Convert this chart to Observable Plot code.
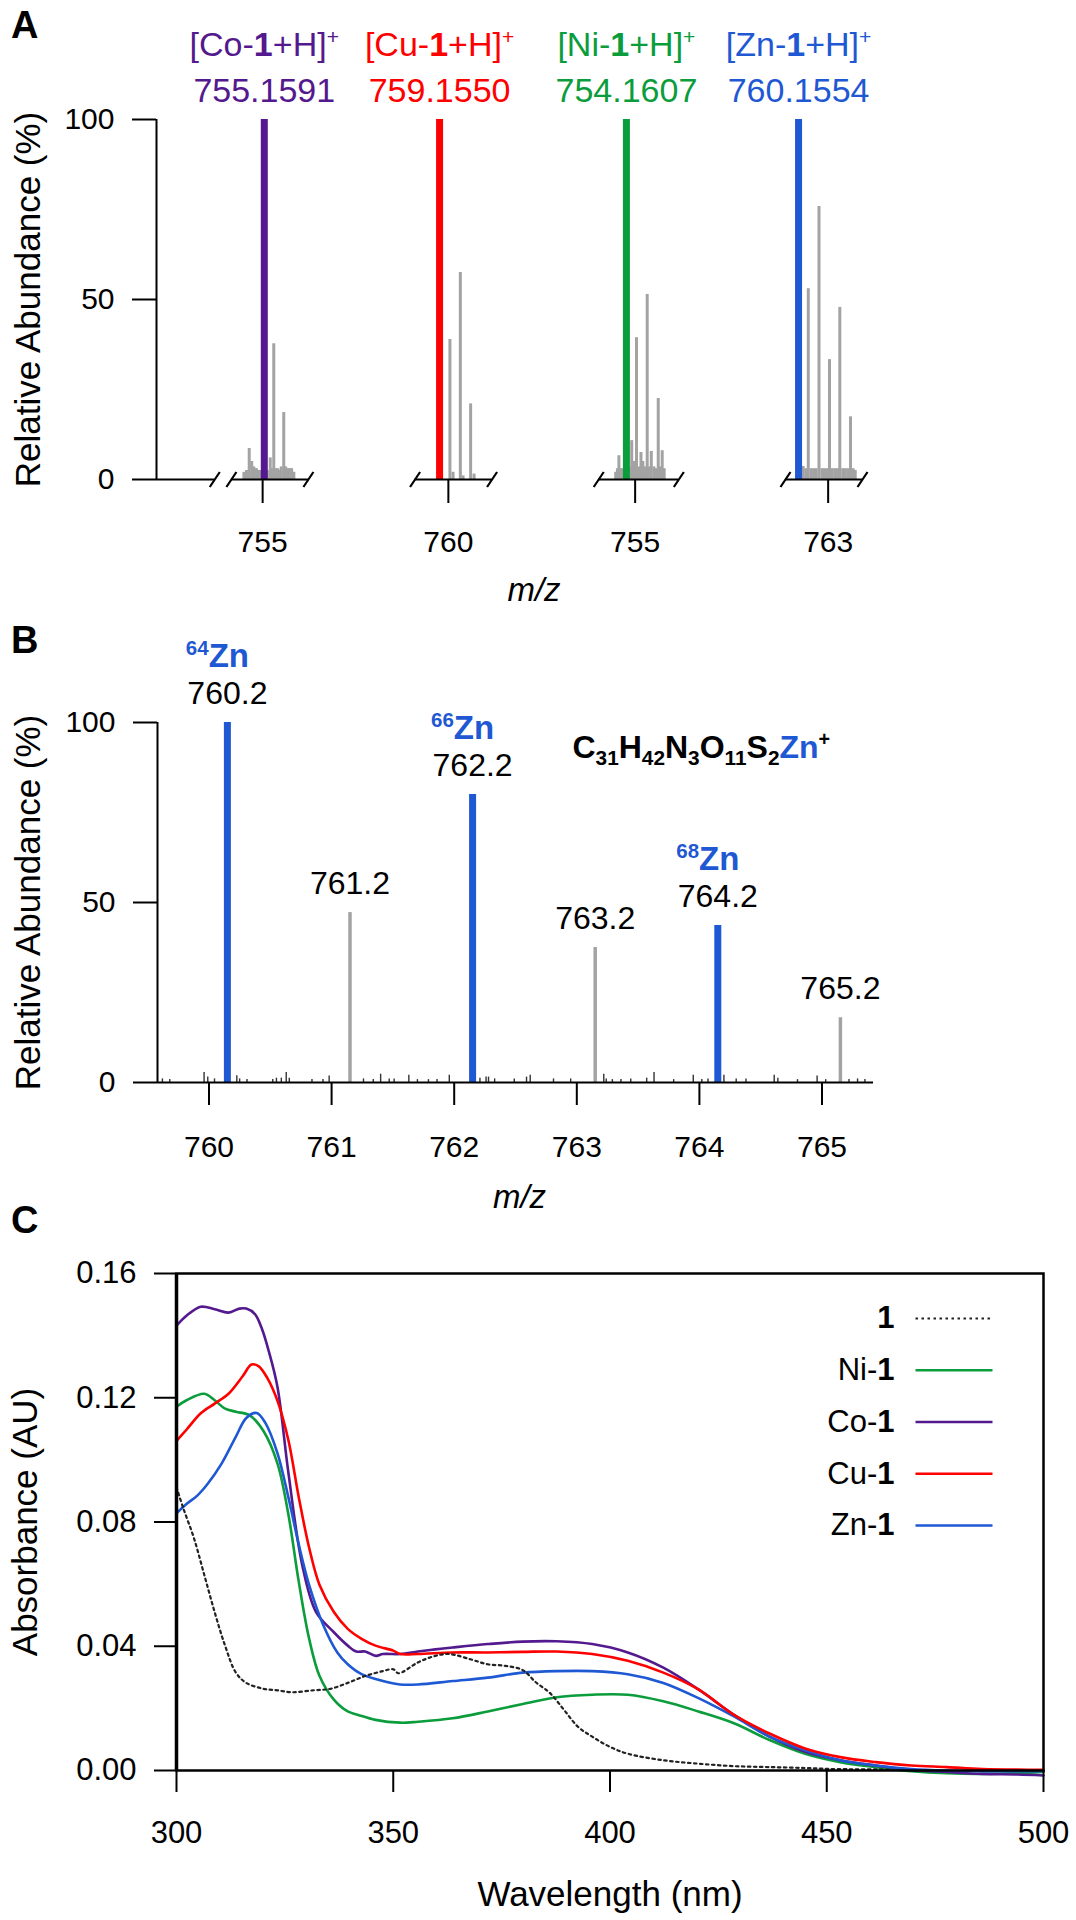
<!DOCTYPE html>
<html>
<head>
<meta charset="utf-8">
<script src="https://cdn.jsdelivr.net/npm/d3@7"></script>
<script src="https://cdn.jsdelivr.net/npm/@observablehq/plot@0.6"></script>
<style>
  html, body { margin: 0; padding: 0; background: #fff; overflow: hidden; }
  #fig { position: relative; width: 1076px; height: 1920px; font-family: "Liberation Sans", Arial, Helvetica, sans-serif; color: #000; }
  .panel { position: absolute; left: 0; }
  .letter { position: absolute; left: 11px; font-weight: bold; font-size: 38px; line-height: 1; }
</style>
</head>
<body>
<div id="fig">
  <div class="letter" style="top:6px">A</div>
  <div class="letter" style="top:621px">B</div>
  <div class="letter" style="top:1201px">C</div>
</div>
<script>
const FONT = '"Liberation Sans", Arial, Helvetica, sans-serif';
const PURPLE = "#54198e", RED = "#ff0000", GREEN = "#0b9c3c", BLUE = "#1f58d3", GREY = "#a3a3a3";

// ---------------- Panel A data ----------------
const metalsA = ["Co", "Cu", "Ni", "Zn"];
const ionLabelsA = ["[Co-<b>1</b>+H]<sup>+</sup>", "[Cu-<b>1</b>+H]<sup>+</sup>", "[Ni-<b>1</b>+H]<sup>+</sup>", "[Zn-<b>1</b>+H]<sup>+</sup>"];
const ionMzA = [755.1591, 759.1550, 754.1607, 760.1554];
const ionColorsA = [PURPLE, RED, GREEN, BLUE];
const axisTickA = [755, 760, 755, 763];
const windowLoA = [752.0, 756.8, 751.5, 758.9];
const windowHiA = [759.4, 764.2, 759.2, 766.3];
const greyCo = [[753.2,2],[753.45,2.5],[753.71,8.6],[753.95,5],[754.15,3.5],[754.41,3],[754.65,2.5],[754.85,2.5],
  [755.45,2.5],[755.73,6],[755.9,3],[756.07,37.7],[756.27,3],[756.46,3],[756.62,2.5],[756.79,3.5],[757.03,18.6],
  [757.22,3.5],[757.45,3],[757.62,3],[757.79,3],[758.0,2]];
const greyCu = [[760.15,38.9],[760.45,2],[761.15,57.5],[761.41,1],[762.14,21],[762.47,1.5]];
const greyNi = [[753.13,2],[753.3,3],[753.44,6.6],[753.6,3],[753.8,3],[754.45,3.5],[754.67,10.8],[754.86,5],[755.0,3],
  [755.13,39.4],[755.35,3.5],[755.56,7.5],[755.74,5],[755.95,3.5],[756.16,51.4],[756.35,3.5],[756.55,7.8],[756.8,3.5],
  [757.0,3],[757.22,22.5],[757.4,3.5],[757.6,8],[757.79,3]];
const greyZn = [[760.4,3.6],[760.6,3.6],[760.85,3],[761.09,53],[761.35,3],[761.6,3],[761.85,3],[762.12,75.8],[762.4,3],
  [762.65,3],[762.9,3],[763.13,33.3],[763.4,3],[763.65,3],[763.9,3],[764.12,47.8],[764.4,3],[764.65,3],[764.9,3],
  [765.15,17.4],[765.4,3],[765.6,2.5]];
const greyByMetalA = {Co: greyCo, Cu: greyCu, Ni: greyNi, Zn: greyZn};

// ---------------- Panel B data ----------------
const peakMzB = [760.15, 761.15, 762.15, 763.15, 764.15, 765.15];
const peakAbB = [100, 47.2, 80, 37.5, 43.6, 18];
const peakLabelB = ["760.2", "761.2", "762.2", "763.2", "764.2", "765.2"];
const isotopeB = ["64", "", "66", "", "68", ""];
const noiseMzB = [759.62,759.68,759.96,759.99,760.045,760.227,760.25,760.31,760.52,760.55,760.59,760.63,760.655,760.84,
  760.93,760.98,761.26,761.34,761.40,761.47,761.51,761.63,761.70,761.79,761.86,761.96,762.21,762.26,762.28,762.33,762.49,
  762.59,762.62,762.81,762.95,763.22,763.24,763.29,763.36,763.44,763.57,763.63,763.79,763.95,764.02,764.07,764.20,764.30,
  764.38,764.61,764.64,764.80,764.96,765.03,765.22,765.29,765.35];
const noiseAbB = [1,0.8,2.8,1.5,1,1.9,1,0.8,0.8,1.2,1.2,2.8,1.2,0.8,0.8,1.8,1,0.8,2.3,1,1,2,0.8,0.8,0.8,2,1.2,1.5,1.5,1,1,
  1.5,2,1,1,2.3,1,0.8,0.8,1,1.2,2.8,0.8,2,0.8,1,2,1,1,2,1.2,0.8,1.8,0.8,0.8,1,0.8];
const formulaB = "C<sub>31</sub>H<sub>42</sub>N<sub>3</sub>O<sub>11</sub>S<sub>2</sub><blue>Zn</blue><sup>+</sup>";
const xTicksB = [760, 761, 762, 763, 764, 765];

// ---------------- Panel C data (wavelength nm, absorbance AU) ----------------
const seriesNamesC = ["<b>1</b>", "Ni-<b>1</b>", "Co-<b>1</b>", "Cu-<b>1</b>", "Zn-<b>1</b>"];
const seriesColorsC = ["#222", GREEN, PURPLE, RED, BLUE];
const free1 = [[300,0.0912],[301.5,0.0847],[304,0.0749],[306.4,0.063],[308.8,0.051],[311.2,0.0402],[313.7,0.0315],
  [316.1,0.0282],[320.1,0.0263],[323.3,0.0258],[326.6,0.0252],[331.4,0.0258],[335.5,0.0263],[339.5,0.0282],[343.5,0.0304],
  [347.6,0.032],[350,0.0326],[351.2,0.0313],[355.7,0.0348],[359.7,0.0369],[362.9,0.0375],[367.8,0.0358],[371.8,0.0342],
  [375.8,0.0337],[379.9,0.0323],[382.8,0.0285],[386.1,0.025],[389.4,0.0195],[392.6,0.0141],[395.9,0.0109],[400,0.0076],
  [404.1,0.0054],[412.3,0.0033],[420.4,0.0022],[428.6,0.0014],[436.8,0.0011],[445,0.0008],[450.7,0.0005],[465,0.0003]];
const ni1 = [[300,0.1171],[302.3,0.1192],[306.4,0.1213],[308.8,0.1192],[311.2,0.1165],[313.7,0.1155],[316.9,0.1143],
  [320.1,0.1092],[323.3,0.0988],[325.8,0.0825],[328.2,0.0608],[330.6,0.0424],[333,0.0304],[336.3,0.0228],[339.5,0.019],
  [341.9,0.0179],[345.9,0.0163],[351.6,0.0154],[355.7,0.0157],[363.7,0.0168],[371.8,0.019],[379.9,0.0214],[387.7,0.0236],
  [395.9,0.0244],[404.1,0.0244],[412.3,0.0223],[420.4,0.019],[428.6,0.0152],[436.8,0.0098],[445,0.0054],[453.1,0.0027],
  [461.3,0.0011],[469.5,-0.0002],[477.7,-0.0009],[485.9,-0.0011],[500,-0.0005]];
const co1 = [[300,0.1432],[302.3,0.1464],[305.6,0.1493],[308.8,0.1485],[312,0.1474],[314.5,0.1487],[316.1,0.1487],
  [318.1,0.1469],[319.7,0.1422],[321.3,0.1349],[323.3,0.1234],[325.8,0.096],[329,0.0662],[332.2,0.051],[336.3,0.0445],
  [339.5,0.0402],[341.5,0.0383],[343.5,0.0383],[346,0.0369],[347.6,0.0375],[351.6,0.0375],[355.7,0.0383],[359.7,0.039],
  [363.7,0.0396],[371.8,0.0407],[379.9,0.0415],[387.7,0.0416],[395.9,0.0407],[404.1,0.038],[412.3,0.0331],[420.4,0.0261],
  [428.6,0.0179],[436.8,0.0109],[445,0.006],[453.1,0.0033],[461.3,0.0016],[469.5,0.0002],[477.7,-0.0005],[485.9,-0.0011],
  [494,-0.0013],[500,-0.0016]];
const cu1 = [[300,0.1061],[302.3,0.1097],[305.6,0.115],[308.8,0.1181],[312,0.1213],[315.3,0.127],[317.3,0.1307],
  [318.9,0.1302],[320.9,0.1265],[323.3,0.119],[325.8,0.1064],[328.2,0.088],[330.6,0.0717],[333,0.0597],[336.3,0.051],
  [339.5,0.0456],[342.7,0.0424],[345.9,0.0402],[350,0.0386],[351.6,0.0375],[355.7,0.0375],[363.7,0.038],[371.8,0.038],
  [379.9,0.0382],[387.7,0.0383],[395.9,0.0375],[404.1,0.0353],[412.3,0.0315],[420.4,0.0261],[428.6,0.0179],[436.8,0.0119],
  [445,0.0071],[453.1,0.0043],[461.3,0.0027],[469.5,0.0016],[477.7,0.0011],[485.9,0.0005],[500,0.0002]];
const zn1 = [[300,0.0828],[302.3,0.0858],[304.8,0.0885],[307.2,0.0923],[310.4,0.0988],[313.7,0.1075],[316.1,0.1135],
  [318.5,0.1151],[320.5,0.1119],[323.3,0.1021],[325.8,0.088],[328.2,0.0728],[330.6,0.0597],[333.9,0.0467],[337.1,0.038],
  [339.5,0.0342],[342.7,0.031],[347.6,0.0288],[351.6,0.0277],[355.7,0.0277],[363.7,0.0288],[371.8,0.0299],[379.9,0.0315],
  [387.7,0.032],[395.9,0.032],[404.1,0.031],[412.3,0.0282],[420.4,0.0233],[428.6,0.0174],[436.8,0.0109],[445,0.0065],
  [453.1,0.0033],[461.3,0.0016],[469.5,0.0005],[477.7,0],[485.9,-0.0002],[500,-0.0002]];
const xTicksC = [300, 350, 400, 450, 500];
const yTicksC = [0, 0.04, 0.08, 0.12, 0.16];

// ---------------- helpers ----------------
const slashSymbol = {draw(ctx) { ctx.moveTo(-5, 7.5); ctx.lineTo(5, -7.5); }};
const legendLineSymbol = {draw(ctx) { ctx.moveTo(-38.5, 0); ctx.lineTo(38.5, 0); }};

function richify(root) {
  root.querySelectorAll("text").forEach(t => {
    const s = t.textContent;
    if (!s.includes("<")) return;
    const fs = parseFloat(getComputedStyle(t).fontSize) || 30;
    while (t.firstChild) t.removeChild(t.firstChild);
    const re = /<(b|sup|sub|blue)>(.*?)<\/\1>|([^<]+)/g;
    let m, shift = 0;
    while ((m = re.exec(s))) {
      const tag = m[1], txt = tag ? m[2] : m[3];
      const ts = document.createElementNS("http://www.w3.org/2000/svg", "tspan");
      let target = 0;
      if (tag === "sup") { target = -0.36 * fs; ts.setAttribute("font-size", (0.62 * fs).toFixed(1)); }
      else if (tag === "sub") { target = 0.24 * fs; ts.setAttribute("font-size", (0.65 * fs).toFixed(1)); }
      else if (tag === "b") ts.setAttribute("font-weight", "bold");
      else if (tag === "blue") ts.setAttribute("fill", BLUE);
      if (target !== shift) ts.setAttribute("dy", (target - shift).toFixed(2));
      shift = target;
      ts.textContent = txt;
      t.appendChild(ts);
    }
  });
}

const baseStyle = {fontFamily: FONT, fontSize: "30px", color: "black", background: "white", overflow: "visible"};
const yTitle = (label, dx) => Plot.text([label], {text: d => d, frameAnchor: "left", textAnchor: "middle", rotate: -90, dx, fontSize: 35, lineAnchor: "middle"});

// ---------------- Panel A ----------------
function panelA() {
  const GAP = 10.25, STUB = [-7.2, -1.6];
  const off = []; let acc = 0;
  metalsA.forEach((m, i) => { off[i] = acc; acc += (windowHiA[i] - windowLoA[i]) + GAP; });
  const vx = (i, mz) => off[i] + (mz - windowLoA[i]);
  const xDomain = [STUB[0], 61.9];

  const bars = metalsA.map((m, i) => ({x: vx(i, ionMzA[i]), y: 100, color: ionColorsA[i], label: ionLabelsA[i], mass: ionMzA[i].toFixed(4)}));
  const grey = metalsA.flatMap((m, i) => greyByMetalA[m].map(([mz, ab]) => ({x: vx(i, mz), y: ab})));
  const segs = [{x1: STUB[0], x2: STUB[1], y: 0}, ...metalsA.map((m, i) => ({x1: vx(i, windowLoA[i]), x2: vx(i, windowHiA[i]), y: 0}))];
  const slashes = [{x: STUB[1], y: 0}, ...metalsA.flatMap((m, i) => [{x: vx(i, windowLoA[i]), y: 0}, {x: vx(i, windowHiA[i]), y: 0}])];
  const ticks = metalsA.map((m, i) => vx(i, axisTickA[i]));
  const tickLabel = new Map(ticks.map((t, i) => [t, String(axisTickA[i])]));

  return Plot.plot({
    width: 1076, height: 615, marginLeft: 156, marginRight: 201, marginTop: 119, marginBottom: 136,
    style: baseStyle,
    x: {domain: xDomain},
    y: {domain: [0, 100]},
    marks: [
      Plot.ruleX(grey, {x: "x", y1: () => 0, y2: "y", stroke: GREY, strokeWidth: 3}),
      Plot.ruleX(bars, {x: "x", y1: () => 0, y2: "y", stroke: d => d.color, strokeWidth: 7}),
      Plot.ruleY(segs, {x1: "x1", x2: "x2", y: "y", stroke: "black", strokeWidth: 2}),
      Plot.ruleX([{x: STUB[0], y1: 0, y2: 100}], {x: "x", y1: "y1", y2: "y2", stroke: "black", strokeWidth: 2}),
      Plot.dot(slashes, {x: "x", y: "y", symbol: slashSymbol, r: 6, stroke: "black", strokeWidth: 2.2, fill: "none"}),
      Plot.axisY({ticks: [0, 50, 100], tickSize: 24, tickPadding: 18, fontSize: 30, strokeWidth: 2, label: null}),
      Plot.axisX({ticks, tickFormat: d => tickLabel.get(d), tickSize: 24, tickPadding: 27, fontSize: 30, strokeWidth: 2, label: null}),
      Plot.text(bars, {x: "x", y: "y", text: "label", fill: d => d.color, fontSize: 34, lineAnchor: "middle", dy: -74}),
      Plot.text(bars, {x: "x", y: "y", text: "mass", fill: d => d.color, fontSize: 34, lineAnchor: "middle", dy: -28}),
      yTitle("Relative Abundance (%)", -128),
      Plot.text(["m/z"], {text: d => d, frameAnchor: "bottom", dx: 18, dy: 111, fontSize: 33, fontStyle: "italic", lineAnchor: "middle"})
    ]
  });
}

// ---------------- Panel B ----------------
function panelB() {
  const xDomain = [759.58, 765.42];
  const peaks = peakMzB.map((mz, i) => ({x: mz, y: peakAbB[i], label: peakLabelB[i], iso: isotopeB[i]}));
  const noise = noiseMzB.map((mz, i) => ({x: mz, y: noiseAbB[i]}));
  return Plot.plot({
    width: 1076, height: 605, marginLeft: 157, marginRight: 203, marginTop: 107, marginBottom: 138,
    style: baseStyle,
    x: {domain: xDomain},
    y: {domain: [0, 100]},
    marks: [
      Plot.ruleX(noise, {x: "x", y1: () => 0, y2: "y", stroke: "#333", strokeWidth: 1.4}),
      Plot.ruleX(peaks.filter(d => !d.iso), {x: "x", y1: () => 0, y2: "y", stroke: GREY, strokeWidth: 3.5}),
      Plot.ruleX(peaks.filter(d => d.iso), {x: "x", y1: () => 0, y2: "y", stroke: BLUE, strokeWidth: 7}),
      Plot.ruleY([0], {stroke: "black", strokeWidth: 2}),
      Plot.ruleX([{x: xDomain[0], y1: 0, y2: 100}], {x: "x", y1: "y1", y2: "y2", stroke: "black", strokeWidth: 2}),
      Plot.axisY({ticks: [0, 50, 100], tickSize: 24, tickPadding: 18, fontSize: 30, strokeWidth: 2, label: null}),
      Plot.axisX({ticks: xTicksB, tickFormat: d => String(d), tickSize: 23, tickPadding: 30, fontSize: 30, strokeWidth: 2, label: null}),
      Plot.text(peaks, {x: "x", y: "y", text: "label", fontSize: 32, lineAnchor: "middle", dy: -29}),
      Plot.text(peaks.filter(d => d.iso), {x: "x", y: "y", text: d => `<sup>${d.iso}</sup>Zn`, fill: BLUE, fontWeight: "bold", fontSize: 33, lineAnchor: "middle", dx: -10, dy: -66}),
      Plot.text([formulaB], {text: d => d, frameAnchor: "top-left", textAnchor: "start", lineAnchor: "middle", dx: 415, dy: 25, fontSize: 32, fontWeight: "bold"}),
      yTitle("Relative Abundance (%)", -129),
      Plot.text(["m/z"], {text: d => d, frameAnchor: "bottom", dx: 4, dy: 115, fontSize: 33, fontStyle: "italic", lineAnchor: "middle"})
    ]
  });
}

// ---------------- Panel C ----------------
function panelC() {
  const series = [free1, ni1, co1, cu1, zn1];
  const drawOrder = [1, 2, 4, 3, 0];
  const lines = drawOrder.map(i => Plot.line(series[i], {
    x: d => d[0], y: d => d[1], stroke: seriesColorsC[i], curve: "catmull-rom",
    strokeWidth: i === 0 ? 2.2 : 2.6, strokeDasharray: i === 0 ? "2.5 3.5" : null
  }));
  const legend = seriesNamesC.flatMap((name, i) => [
    Plot.text([name], {text: d => d, frameAnchor: "top-right", textAnchor: "end", lineAnchor: "middle", dx: -149, dy: 45 + i * 51.75, fontSize: 31}),
    Plot.dot([0], {frameAnchor: "top-right", dx: -89.5, dy: 45 + i * 51.75, symbol: legendLineSymbol, r: 5, fill: "none",
      stroke: seriesColorsC[i], strokeWidth: i === 0 ? 2.2 : 2.6, strokeDasharray: i === 0 ? "2.5 3.5" : null})
  ]);
  return Plot.plot({
    width: 1076, height: 700, marginLeft: 176, marginRight: 33, marginTop: 53, marginBottom: 150,
    style: baseStyle,
    x: {domain: [300, 500]},
    y: {domain: [0, 0.16]},
    marks: [
      ...lines,
      Plot.frame({stroke: "black", strokeWidth: 2.5}),
      Plot.ruleX([300], {stroke: "black", strokeWidth: 3.5}),
      Plot.axisY({ticks: yTicksC, tickFormat: d3.format(".2f"), tickSize: 22, tickPadding: 18, fontSize: 31, strokeWidth: 2, label: null}),
      Plot.axisX({ticks: xTicksC, tickFormat: d => String(d), tickSize: 22, tickPadding: 28, fontSize: 31, strokeWidth: 2, label: null}),
      ...legend,
      yTitle("Absorbance (AU)", -151),
      Plot.text(["Wavelength (nm)"], {text: d => d, frameAnchor: "bottom", dy: 124, fontSize: 35, lineAnchor: "middle"})
    ]
  });
}

const fig = document.getElementById("fig");
function place(svg, top) {
  const d = document.createElement("div");
  d.className = "panel";
  d.style.top = top + "px";
  d.appendChild(svg);
  fig.insertBefore(d, fig.firstChild);
  richify(svg);
}
place(panelA(), 0);
place(panelB(), 615);
place(panelC(), 1220);
</script>
</body>
</html>
